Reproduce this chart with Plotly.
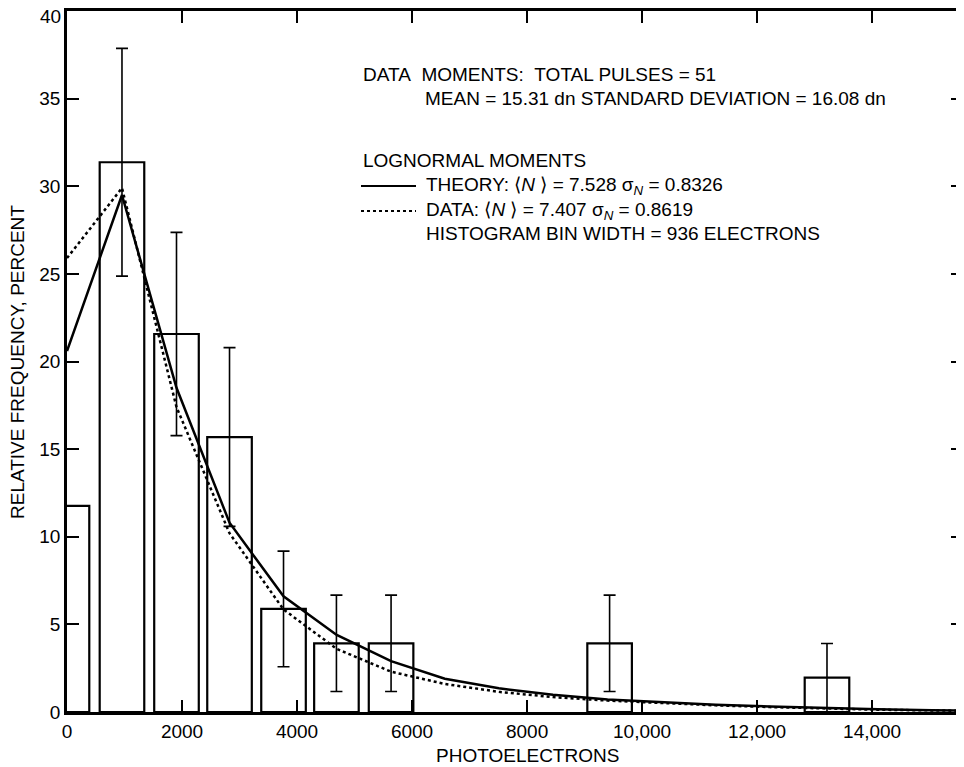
import plotly.graph_objects as go

# ---- data ----
bar_x = [0, 956, 1904, 2826, 3765, 4685, 5635, 9435, 13215]
bar_y = [11.76, 31.37, 21.57, 15.69, 5.88, 3.92, 3.92, 3.92, 1.96]

err_x = [956, 1904, 2826, 3765, 4685, 5635, 9435, 13215]
err_y = [31.37, 21.57, 15.69, 5.88, 3.92, 3.92, 3.92, 1.96]
err_v = [6.5, 5.8, 5.1, 3.3, 2.75, 2.75, 2.75, 1.95]

curve_x = [0, 956, 1904, 2826, 3765, 4690, 5635, 6570, 7510, 8450, 9400,
           10340, 11280, 12220, 13160, 14100, 15040, 15580]
theory_y = [20.6, 29.5, 18.5, 10.8, 6.6, 4.4, 2.9, 1.9, 1.35, 0.98, 0.72,
            0.55, 0.42, 0.32, 0.22, 0.15, 0.1, 0.08]
data_y = [25.9, 29.9, 17.4, 10.2, 5.85, 3.6, 2.3, 1.6, 1.15, 0.85, 0.65,
          0.5, 0.38, 0.28, 0.2, 0.13, 0.09, 0.07]

x_tickvals = [0, 2000, 4000, 6000, 8000, 10000, 12000, 14000]
x_ticktext = ["0", "2000", "4000", "6000", "8000", "10,000", "12,000", "14,000"]
y_tickvals = [0, 5, 10, 15, 20, 25, 30, 35, 40]
y_ticktext = ["0", "5", "10", "15", "20", "25", "30", "35", ""]
y_top_label = "40"  # drawn just below the top tick, as in the reference

FONT = "Liberation Sans, Arial, Helvetica, sans-serif"

# page body has an 8px margin; figure is sized so that screen coords match
OFF = 8
W, H = 956, 759
L, R, T, B = 59, 1, 3, 55
PW, PH = W - L - R, H - T - B


def px(x):
    # screen pixel x -> paper fraction
    return (x - OFF - L) / PW


def py(y):
    # screen pixel y -> paper fraction
    return (H - B - (y - OFF)) / PH


fig = go.Figure()

fig.add_trace(go.Bar(
    x=bar_x, y=bar_y, width=775,
    marker=dict(color="rgba(0,0,0,0)", line=dict(color="black", width=2.2)),
    hoverinfo="skip",
))

fig.add_trace(go.Scatter(
    x=err_x, y=err_y, mode="markers",
    marker=dict(size=1, color="rgba(0,0,0,0)"),
    error_y=dict(type="data", array=err_v, visible=True, color="black",
                 thickness=1.6, width=6),
))

fig.add_trace(go.Scatter(
    x=curve_x, y=theory_y, mode="lines",
    line=dict(color="black", width=2.5),
))
fig.add_trace(go.Scatter(
    x=curve_x, y=data_y, mode="lines",
    line=dict(color="black", width=2.5, dash="dot"),
))

axis_common = dict(
    showline=True, linecolor="black", linewidth=2.5, mirror="ticks",
    ticks="inside", ticklen=12, tickwidth=1.6, tickcolor="black",
    showgrid=False, zeroline=False, ticklabeloverflow="allow",
    automargin=False,
    tickfont=dict(family=FONT, size=19, color="black"),
)

fig.update_xaxes(range=[0, 15580], tickmode="array", tickvals=x_tickvals,
                 ticktext=x_ticktext, **axis_common)
fig.update_yaxes(range=[0, 40], tickmode="array", tickvals=y_tickvals,
                 ticktext=y_ticktext, **axis_common)

anns = []


def text(x, y, s, size=19, xanchor="left", angle=0):
    anns.append(dict(x=px(x), y=py(y), xref="paper", yref="paper", text=s,
                     showarrow=False, xanchor=xanchor, yanchor="middle",
                     textangle=angle,
                     font=dict(family=FONT, size=size, color="black")))


NB = "\u00a0"
text(361, 75, "DATA" + NB + NB + "MOMENTS:" + NB + NB + "TOTAL PULSES = 51")
text(423, 99, "MEAN = 15.31 dn STANDARD DEVIATION = 16.08 dn")
text(361, 160, "LOGNORMAL MOMENTS")
text(424, 186, "THEORY:" + NB + "\u27e8<i>N</i>" + NB + "\u27e9 = 7.528 \u03c3<sub><i>N</i></sub> = 0.8326")
text(424, 211, "DATA:" + NB + "\u27e8<i>N</i>" + NB + "\u27e9 = 7.407 \u03c3<sub><i>N</i></sub> = 0.8619")
text(424, 234, "HISTOGRAM BIN WIDTH = 936 ELECTRONS")

# top y tick label (kept inside the page)
text(63, 17, y_top_label, xanchor="right")

# axis titles
text(527, 755, "PHOTOELECTRONS", xanchor="center")
text(18, 362, "RELATIVE FREQUENCY, PERCENT", xanchor="center", angle=-90)

shapes = [
    dict(type="line", xref="paper", yref="paper", x0=px(361), x1=px(416),
         y0=py(186), y1=py(186), line=dict(color="black", width=2)),
    dict(type="line", xref="paper", yref="paper", x0=px(361), x1=px(416),
         y0=py(211), y1=py(211), line=dict(color="black", width=2, dash="dot")),
]

fig.update_layout(
    width=W, height=H,
    margin=dict(l=L, r=R, t=T, b=B, autoexpand=False),
    paper_bgcolor="white", plot_bgcolor="white",
    showlegend=False,
    annotations=anns, shapes=shapes,
    font=dict(family=FONT, color="black"),
)

fig.write_html("out.html")
